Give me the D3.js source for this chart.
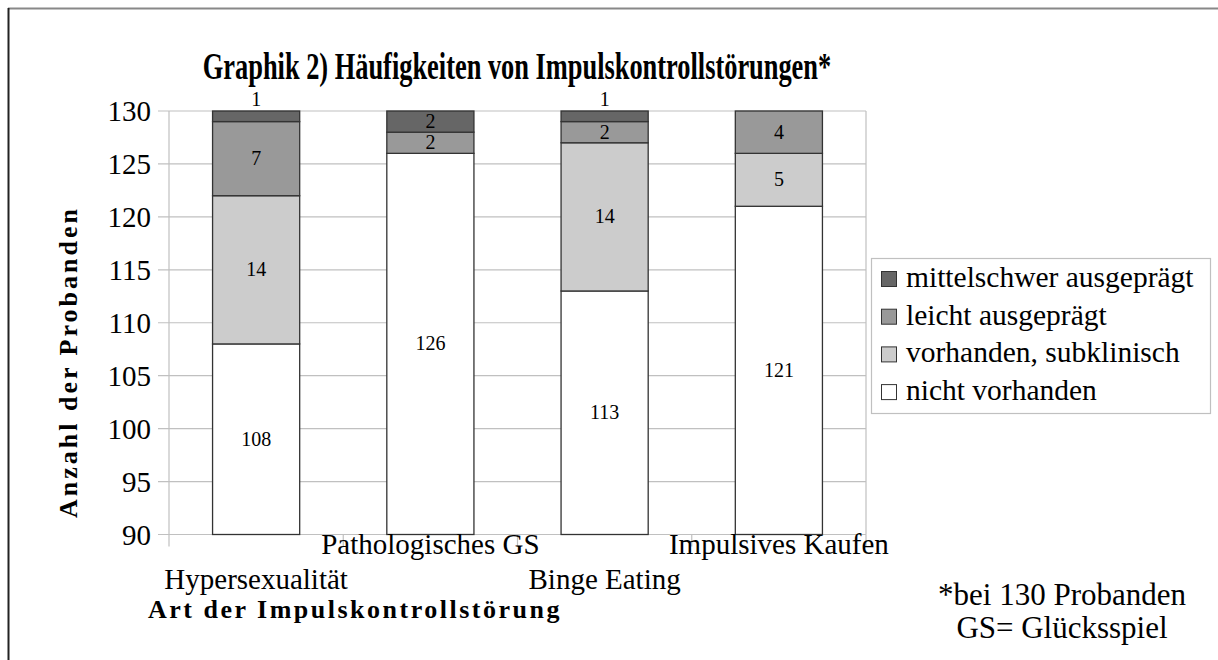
<!DOCTYPE html>
<html lang="de">
<head>
    <meta charset="UTF-8">
    <title>Graphik 2</title>
    <script src="https://d3js.org/d3.v7.min.js"></script>
    <style>
        body { margin: 0; background: #fff; }
        text { font-family: "Liberation Serif", "Times New Roman", serif; fill: #000; }
    </style>
</head>
<body>
<svg id="chart" width="1218" height="660"></svg>

<script>
    // data
    const categories = ["Hypersexualität", "Pathologisches GS", "Binge Eating", "Impulsives Kaufen"];
    const nichtVorhanden = [108, 126, 113, 121];
    const subklinisch = [14, 0, 14, 5];
    const leicht = [7, 2, 2, 4];
    const mittelschwer = [1, 2, 1, 0];
    const seriesNames = ["nicht vorhanden", "vorhanden, subklinisch", "leicht ausgeprägt", "mittelschwer ausgeprägt"];
    const yTicks = [90, 95, 100, 105, 110, 115, 120, 125, 130];

    const colors = ["#ffffff", "#cccccc", "#999999", "#666666"];

    const svg = d3.select("#chart");

    // outer frame (only top and left edges are visible)
    svg.append("line")
        .attr("x1", 8).attr("x2", 1218).attr("y1", 8.5).attr("y2", 8.5)
        .attr("stroke", "#888").attr("stroke-width", 2);
    svg.append("line")
        .attr("x1", 8.5).attr("x2", 8.5).attr("y1", 8).attr("y2", 660)
        .attr("stroke", "#222").attr("stroke-width", 2);

    const plotLeft = 169, plotRight = 866, plotTop = 111, plotBottom = 534.5;

    const x = d3.scaleBand()
        .domain(categories)
        .range([plotLeft, plotRight])
        .paddingInner(0.5)
        .paddingOuter(0.25);

    const y = d3.scaleLinear()
        .domain([90, 130])
        .range([plotBottom, plotTop]);

    // gridlines with small ticks to the left
    svg.append("g")
        .selectAll("line")
        .data(yTicks).enter()
        .append("line")
        .attr("x1", plotLeft - 11).attr("x2", plotRight)
        .attr("y1", d => y(d)).attr("y2", d => y(d))
        .attr("stroke", "#c0c0c0").attr("stroke-width", 1.2);

    // plot frame verticals
    [plotLeft, plotRight].forEach(px => {
        svg.append("line")
            .attr("x1", px).attr("x2", px)
            .attr("y1", plotTop).attr("y2", plotBottom)
            .attr("stroke", "#c0c0c0").attr("stroke-width", 1.2);
    });

    // x-axis category separators
    const sep = d3.range(categories.length + 1).map(i => plotLeft + i * (plotRight - plotLeft) / categories.length);
    svg.append("g")
        .selectAll("line")
        .data(sep).enter()
        .append("line")
        .attr("x1", d => d).attr("x2", d => d)
        .attr("y1", plotBottom).attr("y2", plotBottom + 12)
        .attr("stroke", "#c0c0c0").attr("stroke-width", 1.2);

    // y tick labels
    svg.append("g")
        .selectAll("text")
        .data(yTicks).enter()
        .append("text")
        .attr("x", 151)
        .attr("y", d => y(d) + 10)
        .attr("text-anchor", "end")
        .attr("font-size", 29)
        .text(d => d);

    // stacked bars
    const rows = categories.map((c, i) => ({
        cat: c,
        "nicht vorhanden": nichtVorhanden[i],
        "vorhanden, subklinisch": subklinisch[i],
        "leicht ausgeprägt": leicht[i],
        "mittelschwer ausgeprägt": mittelschwer[i]
    }));
    const stack = d3.stack().keys(seriesNames)(rows);

    const layers = svg.append("g")
        .selectAll("g")
        .data(stack).enter()
        .append("g")
        .attr("fill", (d, i) => colors[i]);

    layers.selectAll("rect")
        .data(d => d.filter(s => s[1] - s[0] > 0))
        .enter()
        .append("rect")
        .attr("x", d => x(d.data.cat))
        .attr("width", x.bandwidth())
        .attr("y", d => y(d[1]))
        .attr("height", d => y(Math.max(d[0], 90)) - y(d[1]))
        .attr("stroke", "#333")
        .attr("stroke-width", 1.3);

    // value labels (too small segments get their label above the bar)
    layers.selectAll("text")
        .data(d => d.filter(s => s[1] - s[0] > 0))
        .enter()
        .append("text")
        .attr("x", d => x(d.data.cat) + x.bandwidth() / 2)
        .attr("y", d => {
            const h = y(Math.max(d[0], 90)) - y(d[1]);
            if (h < 14) return y(d[1]) - 5;
            return (y(Math.max(d[0], 90)) + y(d[1])) / 2 + 6.5;
        })
        .attr("text-anchor", "middle")
        .attr("font-size", 20)
        .text(d => d[1] - d[0]);

    // category labels, staggered
    svg.append("g")
        .selectAll("text")
        .data(categories).enter()
        .append("text")
        .attr("x", d => x(d) + x.bandwidth() / 2)
        .attr("y", (d, i) => i % 2 === 0 ? 589 : 554)
        .attr("text-anchor", "middle")
        .attr("font-size", 29)
        .text(d => d);

    // title (tall and condensed like the reference)
    svg.append("text")
        .attr("transform", "translate(517,79) scale(0.88,1.25)")
        .attr("text-anchor", "middle")
        .attr("font-size", 30)
        .attr("font-weight", "bold")
        .text("Graphik 2) Häufigkeiten von Impulskontrollstörungen*");

    // axis titles
    svg.append("text")
        .attr("x", 355).attr("y", 618)
        .attr("text-anchor", "middle")
        .attr("font-size", 26)
        .attr("font-weight", "bold")
        .attr("letter-spacing", 2.5)
        .text("Art der Impulskontrollstörung");

    svg.append("text")
        .attr("transform", "translate(77,362) rotate(-90)")
        .attr("text-anchor", "middle")
        .attr("font-size", 26)
        .attr("font-weight", "bold")
        .attr("letter-spacing", 3)
        .text("Anzahl der Probanden");

    // legend
    const legend = svg.append("g");
    legend.append("rect")
        .attr("x", 871.5).attr("y", 258.5)
        .attr("width", 339).attr("height", 155)
        .attr("fill", "#fff")
        .attr("stroke", "#c0c0c0").attr("stroke-width", 1.2);

    const legendOrder = seriesNames.slice().reverse();
    const legendRows = legend.selectAll("g.item")
        .data(legendOrder).enter()
        .append("g")
        .attr("class", "item")
        .attr("transform", (d, i) => "translate(0," + (287 + i * 37.7) + ")");

    legendRows.append("rect")
        .attr("x", 881.5).attr("y", -15.5)
        .attr("width", 15).attr("height", 15)
        .attr("fill", d => colors[seriesNames.indexOf(d)])
        .attr("stroke", "#333").attr("stroke-width", 1);

    legendRows.append("text")
        .attr("x", 906).attr("y", 0)
        .attr("font-size", 29.5)
        .text(d => d);

    // note
    svg.append("text")
        .attr("x", 1062).attr("y", 605)
        .attr("text-anchor", "middle")
        .attr("font-size", 31)
        .text("*bei 130 Probanden");
    svg.append("text")
        .attr("x", 1062).attr("y", 638)
        .attr("text-anchor", "middle")
        .attr("font-size", 31)
        .text("GS= Glücksspiel");
</script>
</body>
</html>
